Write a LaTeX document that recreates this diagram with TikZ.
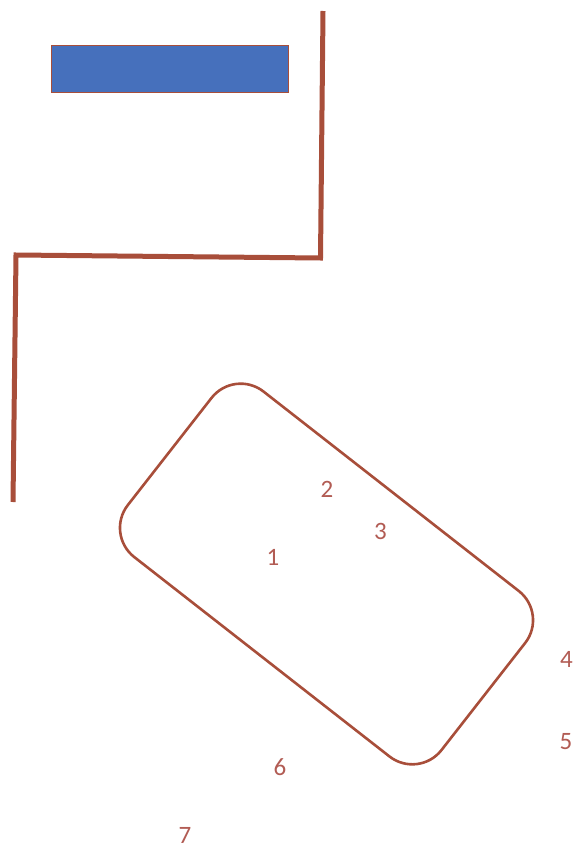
\documentclass[tikz,border=0pt]{standalone}
\usepackage{fontspec}
\setmainfont{Carlito}
\definecolor{linebrown}{RGB}{168,78,58}
\definecolor{labelred}{RGB}{178,92,84}
\definecolor{boxblue}{RGB}{70,112,188}
\begin{document}
\begin{tikzpicture}[x=1pt,y=-1pt,
  wall/.style={draw=linebrown,line width=5pt,line join=miter},
  numlabel/.style={text=labelred,font=\fontsize{25}{25}\selectfont,inner sep=0pt},
  roundbox/.style={draw=linebrown,line width=2.6pt,rounded corners=37pt,inner sep=0pt,
    minimum width=398pt,minimum height=210pt,rotate=-38},
  bluebar/.style={fill=boxblue,draw=linebrown,line width=0.8pt}]
\useasboundingbox (0,0) rectangle (577,848);
\fill[white] (0,0) rectangle (577,848);
\draw[bluebar] (51.5,45.5) rectangle (288,92.5);
\draw[wall] (323,11) -- (320.5,258) -- (16,255) -- (13,502);
\node[roundbox] (box) at (326.5,574) {};
\node[numlabel] (n1) at (273,557) {1};
\node[numlabel] (n2) at (327,489) {2};
\node[numlabel] (n3) at (380.5,531) {3};
\node[numlabel] (n4) at (566.5,659) {4};
\node[numlabel] (n5) at (566,742) {5};
\node[numlabel] (n6) at (280,767) {6};
\node[numlabel] (n7) at (185,835) {7};
\end{tikzpicture}
\end{document}
